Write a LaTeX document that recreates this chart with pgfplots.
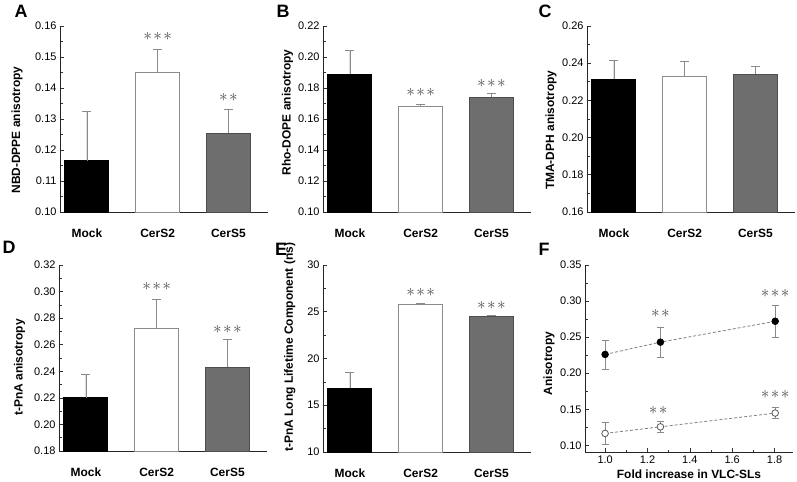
\documentclass[border=0pt]{standalone}
\usepackage{fontspec}
\setmainfont{Liberation Sans}
\usepackage{pgfplots}
\pgfplotsset{compat=1.18}
\definecolor{barB}{HTML}{6E6E6E}
\definecolor{barBedge}{HTML}{4D4D4D}
\definecolor{barWedge}{HTML}{8C8C8C}
\definecolor{errc}{HTML}{8A8A8A}
\definecolor{starc}{HTML}{505050}
\pgfplotsset{
  common/.style={
    scale only axis, width=208bp, height=186bp, anchor=south west,
    axis lines*=left, axis line style={line width=0.8bp, black!85},
    tick align=inside, major tick length=4bp, minor tick length=2.5bp,
    every tick/.style={line width=0.7bp, black!80},
    /pgf/number format/assume math mode=true,
    yticklabel style={font=\fontsize{11}{13}\selectfont, /pgf/number format/.cd, fixed, fixed zerofill, precision=2},
    ylabel style={font=\bfseries\fontsize{12}{14}\selectfont, anchor=center, rotate=0},
    minor y tick num=1,
  },
  barax/.style={
    common,
    xmin=-0.38, xmax=2.56, xtick={0,1,2}, xticklabels={Mock,CerS2,CerS5},
    xtick style={draw=none},
    xticklabel style={font=\bfseries\fontsize{12}{14}\selectfont, anchor=center, yshift=-21bp},
  },
  mbar/.style={ybar, bar width=44bp, bar shift=0pt, line width=0.8bp,
    /pgfplots/error bars/y dir=plus, /pgfplots/error bars/y explicit,
    /pgfplots/error bars/error mark=|,
    /pgfplots/error bars/error bar style={draw=errc, line width=0.7bp},
    /pgfplots/error bars/error mark options={draw=errc, line width=0.7bp, mark size=4.5bp}},
}
\newcommand{\stars}[1]{\node[text=starc, font=\fontsize{16}{16}\selectfont, inner sep=0pt] at (#1) {${\ast}\mkern1.5mu{\ast}\mkern1.5mu{\ast}$};}
\newcommand{\twostars}[1]{\node[text=starc, font=\fontsize{16}{16}\selectfont, inner sep=0pt] at (#1) {${\ast}\mkern1.5mu{\ast}$};}
\begin{document}
\begin{tikzpicture}
\useasboundingbox (0bp,0bp) rectangle (797bp,-482bp);
% Panel A
\begin{axis}[barax, at={(60bp,-212bp)}, ymin=0.10, ymax=0.16, ytick={0.10,0.11,0.12,0.13,0.14,0.15,0.16},
  ylabel={NBD-DPPE anisotropy}, ylabel style={at={(axis description cs:-0.207,0.44)}}]
\addplot[mbar, fill=black, draw=black] coordinates {(0,0.1165) +- (0,0.016)};
\addplot[mbar, fill=white, draw=barWedge] coordinates {(1,0.145) +- (0,0.0075)};
\addplot[mbar, fill=barB, draw=barBedge] coordinates {(2,0.1255) +- (0,0.0075)};
\stars{axis cs:1,0.1565}
\twostars{axis cs:2,0.1368}
\end{axis}
% Panel B
\begin{axis}[barax, at={(323bp,-212bp)}, ymin=0.10, ymax=0.22, ytick={0.10,0.12,0.14,0.16,0.18,0.20,0.22},
  ylabel={Rho-DOPE anisotropy}, ylabel style={at={(axis description cs:-0.171,0.535)}}]
\addplot[mbar, fill=black, draw=black] coordinates {(0,0.189) +- (0,0.015)};
\addplot[mbar, fill=white, draw=barWedge] coordinates {(1,0.168) +- (0,0.0012)};
\addplot[mbar, fill=barB, draw=barBedge] coordinates {(2,0.174) +- (0,0.0025)};
\stars{axis cs:1,0.1768}
\stars{axis cs:2,0.1826}
\end{axis}
% Panel C
\begin{axis}[barax, at={(587bp,-212bp)}, ymin=0.16, ymax=0.26, ytick={0.16,0.18,0.20,0.22,0.24,0.26},
  ylabel={TMA-DPH anisotropy}, ylabel style={at={(axis description cs:-0.173,0.44)}}]
\addplot[mbar, fill=black, draw=black] coordinates {(0,0.2315) +- (0,0.010)};
\addplot[mbar, fill=white, draw=barWedge] coordinates {(1,0.233) +- (0,0.0082)};
\addplot[mbar, fill=barB, draw=barBedge] coordinates {(2,0.234) +- (0,0.0045)};
\end{axis}
% Panel D
\begin{axis}[barax, at={(59bp,-451bp)}, ymin=0.18, ymax=0.32, ytick={0.18,0.20,0.22,0.24,0.26,0.28,0.30,0.32},
  ylabel={t-PnA anisotropy}, ylabel style={at={(axis description cs:-0.19,0.449)}}]
\addplot[mbar, fill=black, draw=black] coordinates {(0,0.220) +- (0,0.018)};
\addplot[mbar, fill=white, draw=barWedge] coordinates {(1,0.2725) +- (0,0.022)};
\addplot[mbar, fill=barB, draw=barBedge] coordinates {(2,0.243) +- (0,0.021)};
\stars{axis cs:1,0.3037}
\stars{axis cs:2,0.2716}
\end{axis}
% Panel E
\begin{axis}[barax, at={(323bp,-452bp)}, height=187bp, ymin=10, ymax=30, ytick={10,15,20,25,30},
  yticklabel style={/pgf/number format/precision=0},
  ylabel={t-PnA Long Lifetime Component (ns)}, ylabel style={at={(axis description cs:-0.159,0.56)}}]
\addplot[mbar, fill=black, draw=black] coordinates {(0,16.8) +- (0,1.7)};
\addplot[mbar, fill=white, draw=barWedge] coordinates {(1,25.8) +- (0,0.1)};
\addplot[mbar, fill=barB, draw=barBedge] coordinates {(2,24.5) +- (0,0.1)};
\stars{axis cs:1,27.04}
\stars{axis cs:2,25.72}
\end{axis}
% Panel F
\begin{axis}[common, at={(585bp,-452bp)}, height=187bp,
  xmin=0.905, xmax=1.887, ymin=0.0907, ymax=0.35,
  xtick={1.0,1.2,1.4,1.6,1.8}, ytick={0.10,0.15,0.20,0.25,0.30,0.35}, minor x tick num=1,
  xticklabel style={font=\fontsize{11}{13}\selectfont, /pgf/number format/.cd, fixed, fixed zerofill, precision=1},
  xlabel={Fold increase in VLC-SLs},
  xlabel style={font=\bfseries\fontsize{12}{14}\selectfont, at={(axis description cs:0.5,-0.118)}, anchor=center},
  ylabel={Anisotropy}, ylabel style={at={(axis description cs:-0.173,0.473)}}]
\addplot[draw=gray, line width=0.8bp, dash pattern=on 3bp off 2bp,
  mark=*, mark size=3.3bp, mark options={solid, fill=black, draw=black},
  error bars/.cd, y dir=both, y explicit, error mark=|,
  error bar style={solid, draw=errc, line width=0.7bp},
  error mark options={solid, draw=errc, line width=0.7bp, mark size=3.5bp}]
  coordinates {(1.0,0.226) +- (0,0.020) (1.261,0.243) +- (0,0.021) (1.803,0.272) +- (0,0.022)};
\addplot[draw=gray, line width=0.8bp, dash pattern=on 3bp off 2bp,
  mark=*, mark size=3.3bp, mark options={solid, fill=white, draw=gray!70!black},
  error bars/.cd, y dir=both, y explicit, error mark=|,
  error bar style={solid, draw=errc, line width=0.7bp},
  error mark options={solid, draw=errc, line width=0.7bp, mark size=3.5bp}]
  coordinates {(1.0,0.1165) +- (0,0.0157) (1.261,0.1256) +- (0,0.007) (1.803,0.1447) +- (0,0.0075)};
\twostars{axis cs:1.261,0.283}
\stars{axis cs:1.803,0.311}
\twostars{axis cs:1.25,0.148}
\stars{axis cs:1.803,0.171}
\end{axis}
% panel letters
\node[font=\bfseries\fontsize{18}{18}\selectfont] at (21bp,-11bp) {A};
\node[font=\bfseries\fontsize{18}{18}\selectfont] at (283bp,-11bp) {B};
\node[font=\bfseries\fontsize{18}{18}\selectfont] at (545bp,-11bp) {C};
\node[font=\bfseries\fontsize{18}{18}\selectfont] at (9bp,-247bp) {D};
\node[font=\bfseries\fontsize{18}{18}\selectfont] at (281bp,-249bp) {E};
\node[font=\bfseries\fontsize{18}{18}\selectfont] at (544bp,-249bp) {F};
\end{tikzpicture}
\end{document}
